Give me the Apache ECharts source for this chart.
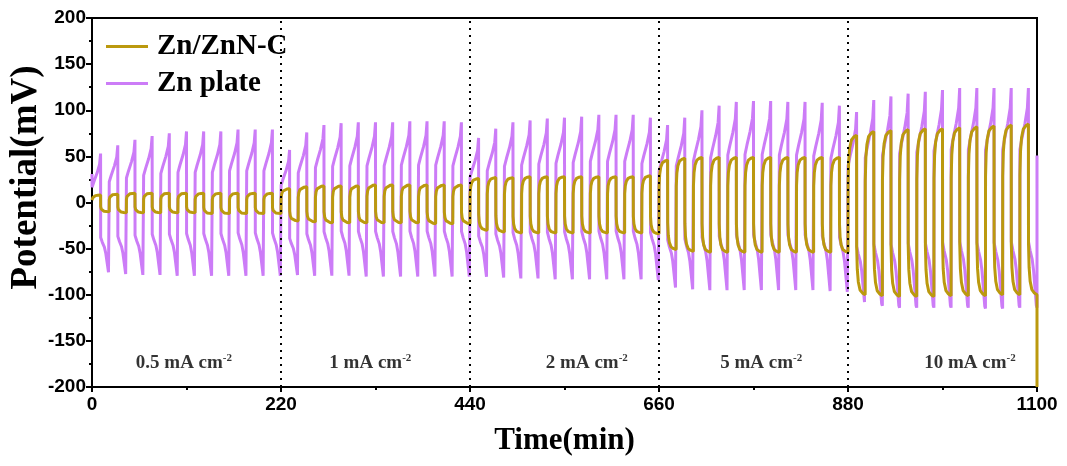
<!DOCTYPE html>
<html>
<head>
<meta charset="utf-8">
<script src="https://cdn.jsdelivr.net/npm/echarts@6/dist/echarts.min.js"></script>
<style>
	html, body { margin: 0; padding: 0; background: #fff; }
	#chart { width: 1067px; height: 466px; }
</style>
</head>
<body>
<div id="chart"></div>
<script>
// one cycle = 10 min charge + 10 min discharge
var cycleMinutes = 20;

var xTicks = [0, 220, 440, 660, 880, 1100];
var yTicks = [-200, -150, -100, -50, 0, 50, 100, 150, 200];

var rateLabels = ['0.5 mA cm', '1 mA cm', '2 mA cm', '5 mA cm', '10 mA cm'];
var rateLabelTimes = [107, 324, 576, 779, 1022];
var rateLabelLevel = -174;

// peak / bottom potential of each cycle (mV), 11 cycles per current density
var znncPeaks = [
	8, 9, 10, 10, 10, 10, 10, 10, 10, 10, 10,
	15, 17, 18, 18, 18, 19, 19, 19, 19, 19, 19,
	26, 27, 27, 28, 28, 28, 28, 28, 28, 28, 29,
	46, 48, 49, 49, 49, 49, 49, 49, 49, 49, 49,
	73, 77, 78, 79, 80, 80, 81, 82, 83, 84, 85
];
var znncBottoms = [
	-10, -11, -11, -11, -11, -11, -12, -12, -12, -12, -12,
	-20, -21, -22, -22, -22, -22, -22, -22, -23, -23, -23,
	-30, -32, -33, -33, -33, -33, -33, -33, -33, -33, -34,
	-51, -53, -54, -54, -54, -54, -54, -54, -54, -54, -54,
	-100, -101, -102, -102, -102, -101, -101, -101, -100, -100, -100
];
var plateStart = 31;
var platePeaks = [
	53, 62, 68, 72, 75, 77, 77, 77, 79, 79, 79,
	57, 76, 84, 86, 87, 87, 87, 88, 88, 88, 87,
	70, 80, 87, 89, 91, 92, 93, 95, 95, 95, 92,
	84, 92, 100, 105, 109, 110, 110, 109, 109, 108, 105,
	98, 111, 115, 118, 120, 122, 124, 124, 124, 124, 124
];
var plateBottoms = [
	-77, -79, -80, -80, -81, -81, -81, -81, -81, -81, -81,
	-80, -81, -81, -81, -82, -82, -82, -82, -82, -82, -82,
	-82, -83, -84, -84, -85, -85, -85, -85, -85, -85, -86,
	-94, -96, -97, -97, -97, -97, -97, -97, -97, -98, -99,
	-110, -112, -114, -114, -114, -114, -114, -115, -115, -114, -114
];

// shape of one cycle: time fraction and level between bottom (0) and peak (1)
var znncShapeT = [0.005, 0.04, 0.1, 0.2, 0.35, 0.5, 0.505, 0.54, 0.6, 0.7, 0.85, 1.0];
var znncShapeL = [0.70, 0.84, 0.92, 0.97, 0.99, 1.0, 0.30, 0.16, 0.08, 0.03, 0.01, 0];
var plateShapeT = [0.005, 0.12, 0.3, 0.44, 0.5, 0.505, 0.6, 0.72, 0.8, 0.9, 0.96, 1.0];
var plateShapeL = [0.72, 0.77, 0.84, 0.91, 1.0, 0.30, 0.26, 0.22, 0.17, 0.07, 0.01, 0.0];

// cell is switched off at the end
var znncEnd = [1100, -200];
var plateEnd = [1100, 51];

function buildCurve(peaks, bottoms, shapeT, shapeL, endPoint){
	var data = [];
	for(var k = 0; k < peaks.length; ++k){
		for(var j = 0; j < shapeT.length; ++j){
			var v = bottoms[k] + shapeL[j] * (peaks[k] - bottoms[k]);
			data.push([(k + shapeT[j]) * cycleMinutes, v]);
		}
	}
	data.push(endPoint);
	return data;
}

var znncData = buildCurve(znncPeaks, znncBottoms, znncShapeT, znncShapeL, znncEnd);
var plateData = [[0, plateStart]].concat(buildCurve(platePeaks, plateBottoms, plateShapeT, plateShapeL, plateEnd));

var labelData = [];
for(var i = 0; i < rateLabels.length; ++i){
	labelData.push({value : [rateLabelTimes[i], rateLabelLevel], name : rateLabels[i]});
}

var serif = '"Liberation Serif", "Times New Roman", serif';
var sans = '"Liberation Sans", Arial, sans-serif';

var option = {
	animation : false,
	backgroundColor : '#fff',
	grid : {
		left : 92, right : 30, top : 18, bottom : 79,
		outerBoundsMode : 'none',
		show : true, borderColor : '#000', borderWidth : 2
	},
	legend : {
		data : ['Zn/ZnN-C', 'Zn plate'],
		orient : 'vertical',
		left : 101, top : 27,
		itemWidth : 42, itemHeight : 3, itemGap : 8,
		icon : 'rect',
		textStyle : {fontFamily : serif, fontWeight : 'bold', fontSize : 29, color : '#000', lineHeight : 28, padding : [0, 0, 0, 4]}
	},
	xAxis : {
		type : 'value',
		min : xTicks[0], max : xTicks[xTicks.length - 1], interval : xTicks[1] - xTicks[0],
		name : 'Time(min)', nameLocation : 'middle', nameGap : 38,
		nameTextStyle : {fontFamily : serif, fontWeight : 'bold', fontSize : 31, color : '#000'},
		axisLine : {onZero : false, lineStyle : {color : '#000', width : 2}},
		axisTick : {show : true, inside : false, length : 5, lineStyle : {width : 2}},
		minorTick : {show : true, splitNumber : 2, length : 3, lineStyle : {color : '#000', width : 2}},
		axisLabel : {
			fontFamily : sans, fontWeight : 'bold', fontSize : 19, color : '#000', margin : 8,
			formatter : function(v){ return String(v); }
		},
		splitLine : {show : false}
	},
	yAxis : {
		type : 'value',
		min : yTicks[0], max : yTicks[yTicks.length - 1], interval : yTicks[1] - yTicks[0],
		name : 'Potential(mV)', nameLocation : 'middle', nameGap : 47, nameMoveOverlap : false,
		nameTextStyle : {fontFamily : serif, fontWeight : 'bold', fontSize : 37, color : '#000', padding : [0, 0, 0, 50]},
		axisLine : {onZero : false, lineStyle : {color : '#000', width : 2}},
		axisTick : {show : true, inside : false, length : 6, lineStyle : {width : 2}},
		minorTick : {show : true, splitNumber : 2, length : 3, lineStyle : {color : '#000', width : 2}},
		axisLabel : {fontFamily : sans, fontWeight : 'bold', fontSize : 19, color : '#000', margin : 6},
		splitLine : {show : false}
	},
	series : [
		{
			name : 'Zn/ZnN-C',
			type : 'line',
			z : 4,
			data : znncData,
			showSymbol : false,
			color : '#bb990e',
			lineStyle : {width : 3, color : '#bb990e'},
			markLine : {
				silent : true,
				symbol : 'none',
				label : {show : false},
				lineStyle : {color : '#000', type : [2, 5], width : 2},
				data : xTicks.slice(1, xTicks.length - 1).map(function(t){ return {xAxis : t}; })
			}
		},
		{
			name : 'Zn plate',
			type : 'line',
			z : 3,
			data : plateData,
			showSymbol : false,
			color : '#cc7cf7',
			lineStyle : {width : 3, color : '#cc7cf7'}
		},
		{
			name : 'rates',
			type : 'scatter',
			data : labelData,
			symbolSize : 1,
			itemStyle : {color : 'rgba(0,0,0,0)'},
			label : {
				show : true,
				position : 'inside',
				formatter : function(p){ return '{a|' + p.name + '}{s|-2}'; },
				rich : {
					a : {fontFamily : serif, fontWeight : 'bold', fontSize : 19, color : '#000'},
					s : {fontFamily : serif, fontWeight : 'bold', fontSize : 11, color : '#000', padding : [0, 0, 10, 0]}
				}
			}
		}
	]
};

var chart = echarts.init(document.getElementById('chart'));
chart.setOption(option);
</script>
</body>
</html>
